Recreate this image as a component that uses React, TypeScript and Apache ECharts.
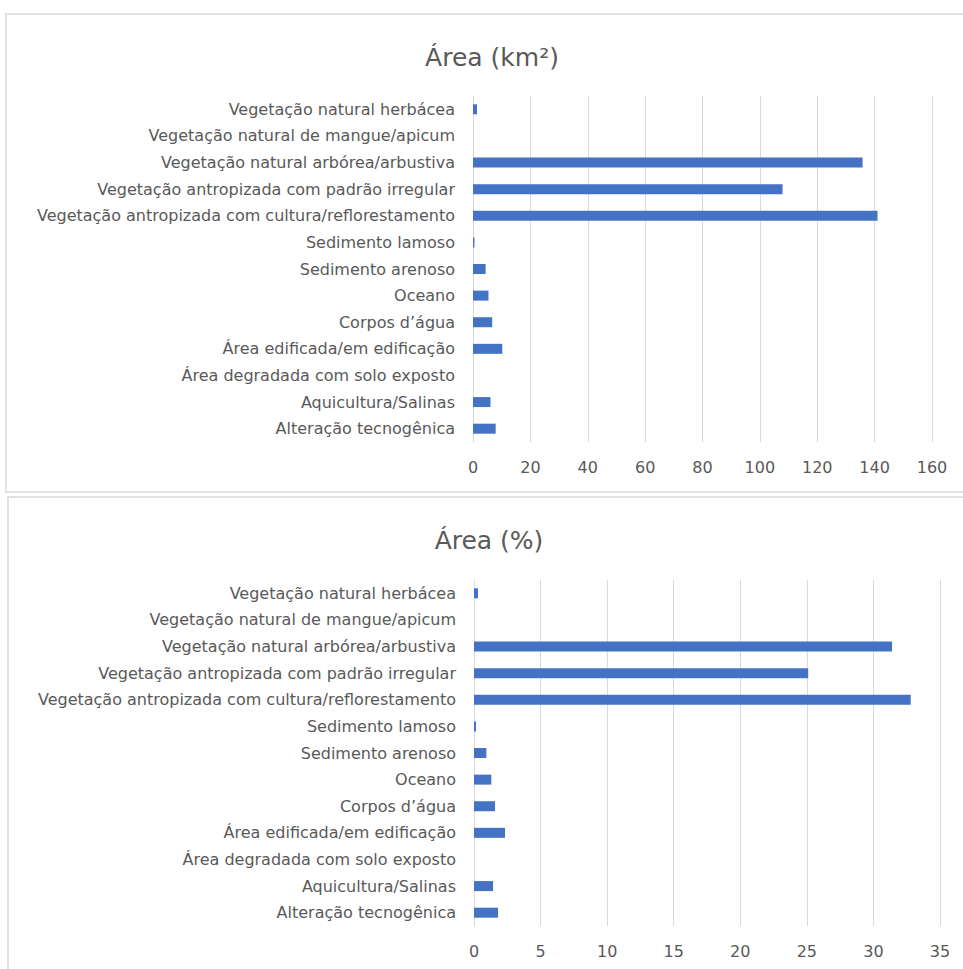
import React, { useEffect, useRef } from "react";
import * as echarts from "echarts";

// Land-cover classes, listed top to bottom as drawn
const categories = [
  "Vegetação natural herbácea",
  "Vegetação natural de mangue/apicum",
  "Vegetação natural arbórea/arbustiva",
  "Vegetação antropizada com padrão irregular",
  "Vegetação antropizada com cultura/reflorestamento",
  "Sedimento lamoso",
  "Sedimento arenoso",
  "Oceano",
  "Corpos d’água",
  "Área edificada/em edificação",
  "Área degradada com solo exposto",
  "Aquicultura/Salinas",
  "Alteração tecnogênica",
];

// Area of each class in km²
const areaKm2 = [1.4, 0, 135.8, 107.9, 141.0, 0.5, 4.4, 5.4, 6.7, 10.2, 0, 6.1, 7.9];

// Share of each class in %
const areaPct = [0.3, 0, 31.4, 25.1, 32.8, 0.15, 0.93, 1.3, 1.58, 2.33, 0, 1.43, 1.8];

const kmTicks = { min: 0, max: 160, interval: 20 };
const pctTicks = { min: 0, max: 35, interval: 5 };

const titles = ["Área (km²)", "Área (%)"];

const FONT = "'DejaVu Sans', 'Open Sans', sans-serif";
const TEXT = "#595959";
const GRID = "#d9d9d9";
const BAR = "#4472C4";

export default function App() {
  const ref = useRef<HTMLDivElement>(null);

  useEffect(() => {
    if (!ref.current) return;
    const chart = echarts.init(ref.current, undefined, { renderer: "svg" });

    const yAxisBase = (gridIndex: number) => ({
      type: "category" as const,
      gridIndex,
      data: categories,
      inverse: true,
      axisLine: { show: true, lineStyle: { color: GRID, width: 1 } },
      axisTick: { show: false },
      axisLabel: { color: TEXT, fontSize: 16, fontFamily: FONT, margin: 18 },
    });

    const xAxisBase = (gridIndex: number, t: { min: number; max: number; interval: number }) => ({
      type: "value" as const,
      gridIndex,
      min: t.min,
      max: t.max,
      interval: t.interval,
      axisLine: { show: false },
      axisTick: { show: false },
      splitLine: { show: true, lineStyle: { color: GRID, width: 1 } },
      axisLabel: { color: TEXT, fontSize: 16, fontFamily: FONT, margin: 17 },
    });

    const titleStyle = { color: TEXT, fontSize: 25, fontWeight: "normal" as const, fontFamily: FONT };

    chart.setOption({
      animation: false,
      backgroundColor: "#ffffff",
      title: [
        { text: titles[0], left: 487, top: 40, textAlign: "center", textStyle: titleStyle },
        { text: titles[1], left: 484, top: 523, textAlign: "center", textStyle: titleStyle },
      ],
      graphic: [
        {
          type: "rect",
          shape: { x: 6, y: 14, width: 970, height: 478 },
          style: { fill: "none", stroke: GRID, lineWidth: 1.5 },
          silent: true,
          z: -1,
        },
        {
          type: "rect",
          shape: { x: 8, y: 497, width: 970, height: 490 },
          style: { fill: "none", stroke: GRID, lineWidth: 1.5 },
          silent: true,
          z: -1,
        },
      ],
      grid: [
        { left: 473, right: 31, top: 96, height: 346 },
        { left: 474, right: 23, top: 580, height: 346 },
      ],
      xAxis: [xAxisBase(0, kmTicks), xAxisBase(1, pctTicks)],
      yAxis: [yAxisBase(0), yAxisBase(1)],
      series: [
        {
          type: "bar",
          xAxisIndex: 0,
          yAxisIndex: 0,
          data: areaKm2,
          barWidth: 10,
          itemStyle: { color: BAR },
        },
        {
          type: "bar",
          xAxisIndex: 1,
          yAxisIndex: 1,
          data: areaPct,
          barWidth: 10,
          itemStyle: { color: BAR },
        },
      ],
    });

    return () => chart.dispose();
  }, []);

  return (
    <div
      ref={ref}
      style={{ position: "absolute", left: 0, top: 0, width: 963, height: 969 }}
    />
  );
}
